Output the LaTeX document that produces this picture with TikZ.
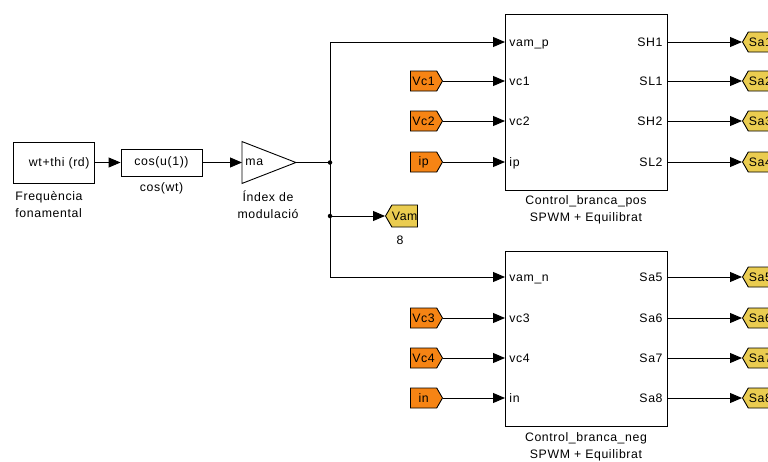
\documentclass[tikz,border=0pt]{standalone}
\usepackage{fontspec}
\setmainfont{Liberation Sans}[LetterSpace=5]
\usetikzlibrary{arrows.meta,shapes.symbols}
\definecolor{fromorange}{RGB}{246,132,20}
\definecolor{gotoyellow}{RGB}{234,204,80}
\begin{document}
\begin{tikzpicture}[x=1pt,y=-1pt,
  font=\fontsize{12.3}{17}\selectfont,
  line width=0.9pt,
  blk/.style={draw, fill=white, inner sep=0pt},
  sig/.style={-{Triangle[length=12pt,width=10pt]}},
  fromtag/.style={signal, signal to=east, signal pointer angle=120, draw, fill=fromorange,
    minimum width=32pt, minimum height=20pt, inner sep=0pt, anchor=east},
  gototag/.style={signal, signal to=west, signal pointer angle=120, draw, fill=gotoyellow,
    minimum width=30pt, minimum height=20pt, inner sep=0pt, anchor=west},
  inport/.style={inner sep=0pt, anchor=base west},
  outport/.style={inner sep=0pt, anchor=base east},
  captxt/.style={align=center, inner sep=0pt},
  dot/.style={circle, fill, inner sep=0pt, minimum size=4.5pt}
]
\clip (0,0) rectangle (768,461);
\fill[white] (0,0) rectangle (768,461);

% ---- source chain: phase, cosine, modulation index ----
\node[blk, minimum width=81pt, minimum height=41pt] (wt) at (53.5,162.5) {};
\node[inner sep=0pt, anchor=east] (wtlbl) at (90,163) {wt+thi (rd)};
\node[captxt, align=left, anchor=west] (wtcap) at (15,204.5) {Frequència\\fonamental};

\node[blk, minimum width=81pt, minimum height=27pt] (cosb) at (161.5,162.5) {cos(u(1))};
\node[captxt] (coscap) at (161.5,188) {cos(wt)};

\node[inner sep=0pt, minimum width=53pt, minimum height=41pt, anchor=west] (gain) at (242,162.5) {};
\draw[fill=white] (gain.north west) -- (gain.east) -- (gain.south west) -- cycle;
\node[inner sep=0pt, anchor=west] (gainlbl) at ([xshift=3pt]gain.west) {ma};
\node[captxt] (gaincap) at (268,205) {Índex de\\modulació};

\draw[sig] (wt.east) -- (cosb.west);
\draw[sig] (cosb.east) -- (gain.west);

% ---- branch points ----
\coordinate (j1) at (330,162.5);
\coordinate (j2) at (330,216);
\draw (gain.east) -- (j1);

% ---- upper branch controller ----
\node[blk, minimum width=162pt, minimum height=176pt] (pos) at (586,102) {};
\coordinate (posI1) at (505,42);  \coordinate (posI2) at (505,81);
\coordinate (posI3) at (505,121); \coordinate (posI4) at (505,162);
\coordinate (posO1) at (667,42);  \coordinate (posO2) at (667,81);
\coordinate (posO3) at (667,121); \coordinate (posO4) at (667,162);
\node[inport] (pvamp) at (509,46) {vam\_p};
\node[inport] (pvc1) at (509,85) {vc1};
\node[inport] (pvc2) at (509,125) {vc2};
\node[inport] (pip) at (509,166) {ip};
\node[outport] (psh1) at (663,46) {SH1};
\node[outport] (psl1) at (663,85) {SL1};
\node[outport] (psh2) at (663,125) {SH2};
\node[outport] (psl2) at (663,166) {SL2};
\node[captxt] (poscap) at (586,209.5) {Control\_branca\_pos\\SPWM + Equilibrat};

% ---- lower branch controller ----
\node[blk, minimum width=162pt, minimum height=175pt] (neg) at (586,338.5) {};
\coordinate (negI1) at (505,277); \coordinate (negI2) at (505,318);
\coordinate (negI3) at (505,358); \coordinate (negI4) at (505,398);
\coordinate (negO1) at (667,277); \coordinate (negO2) at (667,318);
\coordinate (negO3) at (667,358); \coordinate (negO4) at (667,398);
\node[inport] (pvamn) at (509,281) {vam\_n};
\node[inport] (pvc3) at (509,322) {vc3};
\node[inport] (pvc4) at (509,362) {vc4};
\node[inport] (pin) at (509,402) {in};
\node[outport] (psa5) at (663,281) {Sa5};
\node[outport] (psa6) at (663,322) {Sa6};
\node[outport] (psa7) at (663,362) {Sa7};
\node[outport] (psa8) at (663,402) {Sa8};
\node[captxt] (negcap) at (586,446.5) {Control\_branca\_neg\\SPWM + Equilibrat};

% ---- modulating signal distribution ----
\draw[sig] (j1) |- (posI1);
\draw[sig] (j1) |- (negI1);
\node[gototag, minimum width=32pt, minimum height=22pt] (vam) at (385,216) {Vam};
\node[captxt] (vamtagcap) at (400,240) {8};
\draw[sig] (j2) -- (vam.west);
\node[dot] at (j1) {};
\node[dot] at (j2) {};

% ---- measured inputs (From tags) ----
\node[fromtag] (vc1) at (443,81) {Vc1};
\node[fromtag] (vc2) at (443,121) {Vc2};
\node[fromtag] (ip) at (443,162) {ip};
\node[fromtag] (vc3) at (443,318) {Vc3};
\node[fromtag] (vc4) at (443,358) {Vc4};
\node[fromtag] (in) at (443,398) {in};
\draw[sig] (vc1.east) -- (posI2);
\draw[sig] (vc2.east) -- (posI3);
\draw[sig] (ip.east) -- (posI4);
\draw[sig] (vc3.east) -- (negI2);
\draw[sig] (vc4.east) -- (negI3);
\draw[sig] (in.east) -- (negI4);

% ---- gate signals (Goto tags) ----
\node[gototag] (sa1) at (742,42) {Sa1};
\node[gototag] (sa2) at (742,81) {Sa2};
\node[gototag] (sa3) at (742,121) {Sa3};
\node[gototag] (sa4) at (742,162) {Sa4};
\node[gototag] (sa5) at (742,277) {Sa5};
\node[gototag] (sa6) at (742,318) {Sa6};
\node[gototag] (sa7) at (742,358) {Sa7};
\node[gototag] (sa8) at (742,398) {Sa8};
\draw[sig] (posO1) -- (sa1.west);
\draw[sig] (posO2) -- (sa2.west);
\draw[sig] (posO3) -- (sa3.west);
\draw[sig] (posO4) -- (sa4.west);
\draw[sig] (negO1) -- (sa5.west);
\draw[sig] (negO2) -- (sa6.west);
\draw[sig] (negO3) -- (sa7.west);
\draw[sig] (negO4) -- (sa8.west);
\end{tikzpicture}
\end{document}
